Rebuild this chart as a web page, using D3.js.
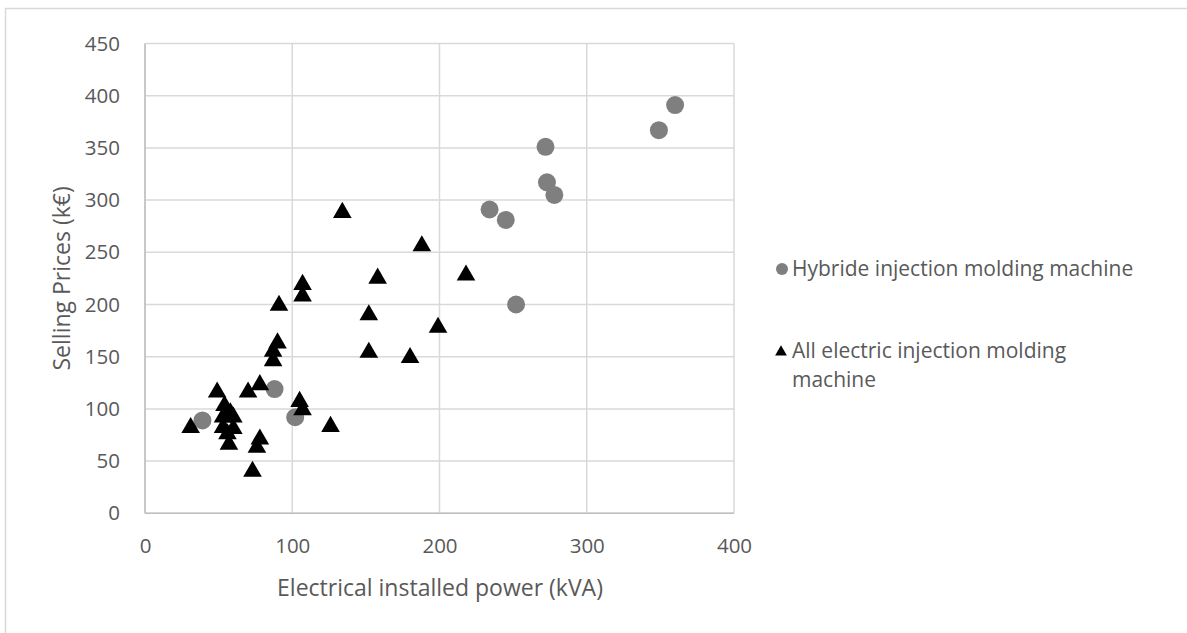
<!DOCTYPE html>
<html>
<head>
<meta charset="utf-8">
<script src="https://cdn.jsdelivr.net/npm/d3@7"></script>
<style>
  body { margin: 0; background: #fff; }
  text { font-family: "Open Sans", Lato, sans-serif; fill: #595959; }
</style>
</head>
<body>
<div id="chartDIV"></div>
<script>
// data (kVA, k€)
var hybridX = [360, 349, 272, 273, 278, 234, 245, 252, 88, 39, 102]
var hybridY = [391, 367, 351, 317, 305, 291, 281, 200, 119, 89, 92]

var electricX = [134, 188, 218, 158, 107, 107, 91, 152, 199, 90, 87, 87, 152, 180, 78, 49, 70,
                 105, 107, 126, 31, 54, 58, 53, 60, 53, 60, 56, 57, 78, 76, 73]
var electricY = [289, 257, 229, 226, 220, 209, 200, 191, 179, 164, 156, 147, 155, 150, 124, 117, 117,
                 108, 100, 84, 83, 104, 97, 93, 93, 83, 82, 77, 67, 72, 64, 41]

var xTicks = [0, 100, 200, 300, 400]
var yTicks = [0, 50, 100, 150, 200, 250, 300, 350, 400, 450]

var legendLabels = ["Hybride injection molding machine", ["All electric injection molding", "machine"]]

// plot area, in pixels (window.top is taken, so plot* names)
var svgWidth = 1187
var svgHeight = 633
var plotLeft = 145
var plotRight = 734
var plotTop = 43.5
var plotBottom = 513.3
var gridColor = "#d9d9d9"
var hybridColor = "#7f7f7f"
var tickSize = "20.5px"
var titleSize = "23px"
var legendSize = "21px"

var svg = d3.select("#chartDIV").append("svg")
  .attr("width", svgWidth)
  .attr("height", svgHeight)

// outer frame of the chart (right/bottom run off the picture)
svg.append("rect")
  .attr("x", 5.5).attr("y", 8.5)
  .attr("width", svgWidth + 20).attr("height", svgHeight + 20)
  .style("fill", "none")
  .style("stroke", "#d9d9d9")
  .style("stroke-width", 1.5)

var x = d3.scaleLinear().domain([0, 400]).range([plotLeft, plotRight])
var y = d3.scaleLinear().domain([0, 450]).range([plotBottom, plotTop])

// grid lines
svg.append("g").selectAll("line").data(xTicks).join("line")
  .attr("x1", d => x(d)).attr("x2", d => x(d))
  .attr("y1", plotTop).attr("y2", plotBottom)
  .style("stroke", gridColor).style("stroke-width", 1.5)

svg.append("g").selectAll("line").data(yTicks).join("line")
  .attr("x1", plotLeft).attr("x2", plotRight)
  .attr("y1", d => y(d)).attr("y2", d => y(d))
  .style("stroke", gridColor).style("stroke-width", 1.5)

// axes (labels only, Excel style)
var xAxis = svg.append("g")
  .attr("transform", `translate(0 ${plotBottom + 22})`)
  .call(d3.axisBottom(x).tickValues(xTicks).tickSize(0))
xAxis.select(".domain").remove()
xAxis.selectAll("text").style("font-size", tickSize).style("fill", "#595959")
  .style("font-family", "'Open Sans', Lato, sans-serif")

var yAxis = svg.append("g")
  .attr("transform", `translate(${plotLeft - 22} 0)`)
  .call(d3.axisLeft(y).tickValues(yTicks).tickSize(0))
yAxis.select(".domain").remove()
yAxis.selectAll("text").style("font-size", tickSize).style("fill", "#595959")
  .style("font-family", "'Open Sans', Lato, sans-serif")

// axis lines on top of grid
svg.append("line")
  .attr("x1", plotLeft).attr("x2", plotRight).attr("y1", plotBottom).attr("y2", plotBottom)
  .style("stroke", "#bfbfbf").style("stroke-width", 1.5)
svg.append("line")
  .attr("x1", plotLeft).attr("x2", plotLeft).attr("y1", plotTop).attr("y2", plotBottom)
  .style("stroke", "#bfbfbf").style("stroke-width", 1.5)

// axis titles
svg.append("text")
  .attr("x", 440)
  .attr("y", 596)
  .attr("text-anchor", "middle")
  .style("font-size", titleSize)
  .text("Electrical installed power (kVA)")

svg.append("text")
  .attr("transform", `translate(70 ${(plotTop + plotBottom) / 2}) rotate(-90)`)
  .attr("text-anchor", "middle")
  .style("font-size", titleSize)
  .text("Selling Prices (k€)")

// markers
var triangle = d3.symbol().type(d3.symbolTriangle).size(150)

svg.append("g").selectAll("circle").data(hybridX).join("circle")
  .attr("cx", (d, i) => x(d))
  .attr("cy", (d, i) => y(hybridY[i]))
  .attr("r", 9)
  .style("fill", hybridColor)

svg.append("g").selectAll("path").data(electricX).join("path")
  .attr("d", triangle)
  .attr("transform", (d, i) => `translate(${x(d)} ${y(electricY[i]) + 1})`)
  .style("fill", "#000")

// legend
svg.append("circle")
  .attr("cx", 782).attr("cy", 269).attr("r", 6)
  .style("fill", hybridColor)
svg.append("text")
  .attr("x", 792).attr("y", 276)
  .style("font-size", legendSize)
  .text(legendLabels[0])

svg.append("path")
  .attr("d", d3.symbol().type(d3.symbolTriangle).size(60))
  .attr("transform", "translate(781 352)")
  .style("fill", "#000")
// two separate lines so they don't crowd each other
svg.append("text")
  .attr("x", 792).attr("y", 358)
  .style("font-size", legendSize)
  .text(legendLabels[1][0])
svg.append("text")
  .attr("x", 792).attr("y", 387)
  .style("font-size", legendSize)
  .text(legendLabels[1][1])
</script>
</body>
</html>
